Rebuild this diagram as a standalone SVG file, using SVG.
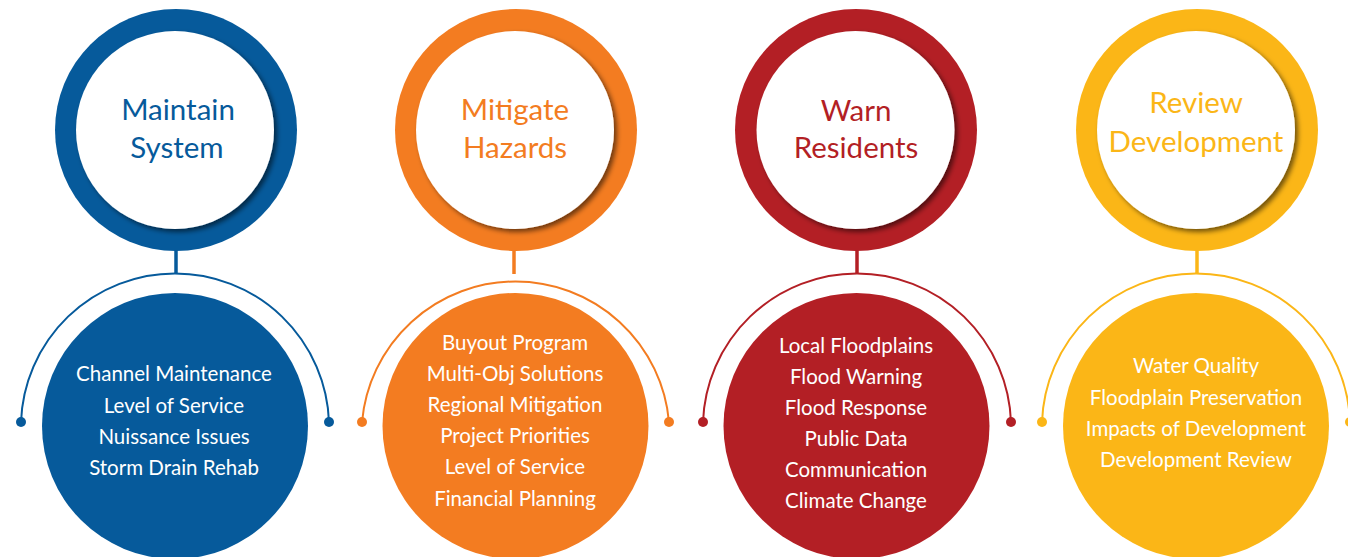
<svg xmlns="http://www.w3.org/2000/svg" width="1348" height="557" viewBox="0 0 1348 557">
<defs>
<filter id="sh" x="-20%" y="-20%" width="140%" height="140%">
<feDropShadow dx="3" dy="3" stdDeviation="2.5" flood-color="#000" flood-opacity="0.55"/>
</filter>
</defs>
<style>
.title{font-family:Lato,"Open Sans",sans-serif;font-size:29.5px;text-anchor:middle}
.item{font-family:Lato,"Open Sans",sans-serif;font-size:20.5px;fill:#fff;text-anchor:middle}
.inner{fill:#fff;filter:url(#sh)}
.conn{fill:none;stroke-width:2}
.stem{stroke-width:3.5}
.blue{fill:#065a9b}.orange{fill:#f37c21}.red{fill:#b31f25}.yellow{fill:#fbb617}
.sblue{stroke:#065a9b}.sorange{stroke:#f37c21}.sred{stroke:#b31f25}.syellow{stroke:#fbb617}
</style>
<rect width="1348" height="557" fill="#fff"/>

<g id="connectors">
<line class="stem sblue" x1="176" y1="248" x2="176" y2="274"/>
<path class="conn sblue" d="M21,422 A154.1,154.1 0 0 1 329,422"/>
<circle class="blue" cx="21" cy="422" r="5"/><circle class="blue" cx="329" cy="422" r="5"/>

<line class="stem sorange" x1="514" y1="248" x2="514" y2="274"/>
<path class="conn sorange" d="M362,422 A154.1,154.1 0 0 1 669,422"/>
<circle class="orange" cx="362" cy="422" r="5"/><circle class="orange" cx="669" cy="422" r="5"/>

<line class="stem sred" x1="857" y1="248" x2="857" y2="274"/>
<path class="conn sred" d="M703,422 A154.1,154.1 0 0 1 1011,422"/>
<circle class="red" cx="703" cy="422" r="5"/><circle class="red" cx="1011" cy="422" r="5"/>

<line class="stem syellow" x1="1197" y1="248" x2="1197" y2="274"/>
<path class="conn syellow" d="M1042,422 A154.1,154.1 0 0 1 1350,422"/>
<circle class="yellow" cx="1042" cy="422" r="5"/><circle class="yellow" cx="1350" cy="422" r="5"/>
</g>

<g id="maintain-system">
<circle class="blue" cx="176" cy="130" r="121"/>
<circle class="inner" cx="175" cy="130" r="99"/>
<text class="title blue" x="178" y="120">Maintain</text>
<text class="title blue" x="177" y="158">System</text>
</g>
<g id="maintain-items">
<circle class="blue" cx="175" cy="426" r="133"/>
<text class="item" x="174" y="381">Channel Maintenance</text>
<text class="item" x="174" y="413">Level of Service</text>
<text class="item" x="174" y="444">Nuissance Issues</text>
<text class="item" x="174" y="475">Storm Drain Rehab</text>
</g>

<g id="mitigate-hazards">
<circle class="orange" cx="516" cy="130" r="121"/>
<circle class="inner" cx="515" cy="130" r="99"/>
<text class="title orange" x="515" y="120">Mitigate</text>
<text class="title orange" x="515" y="158">Hazards</text>
</g>
<g id="mitigate-items">
<circle class="orange" cx="515.5" cy="426" r="133"/>
<text class="item" x="515" y="350">Buyout Program</text>
<text class="item" x="515" y="381">Multi-Obj Solutions</text>
<text class="item" x="515" y="412">Regional Mitigation</text>
<text class="item" x="515" y="443">Project Priorities</text>
<text class="item" x="515" y="474">Level of Service</text>
<text class="item" x="515" y="506">Financial Planning</text>
</g>

<g id="warn-residents">
<circle class="red" cx="856" cy="130" r="121"/>
<circle class="inner" cx="855.5" cy="130" r="99"/>
<text class="title red" x="856" y="121">Warn</text>
<text class="title red" x="856" y="158">Residents</text>
</g>
<g id="warn-items">
<circle class="red" cx="856.5" cy="426" r="133"/>
<text class="item" x="856" y="353">Local Floodplains</text>
<text class="item" x="856" y="384">Flood Warning</text>
<text class="item" x="856" y="415">Flood Response</text>
<text class="item" x="856" y="446">Public Data</text>
<text class="item" x="856" y="477">Communication</text>
<text class="item" x="856" y="508">Climate Change</text>
</g>

<g id="review-development">
<circle class="yellow" cx="1197" cy="130" r="121"/>
<circle class="inner" cx="1196" cy="130" r="99"/>
<text class="title yellow" x="1196" y="113">Review</text>
<text class="title yellow" x="1196" y="152">Development</text>
</g>
<g id="review-items">
<circle class="yellow" cx="1196" cy="426" r="133"/>
<text class="item" x="1196" y="373">Water Quality</text>
<text class="item" x="1196" y="405">Floodplain Preservation</text>
<text class="item" x="1196" y="436">Impacts of Development</text>
<text class="item" x="1196" y="467">Development Review</text>
</g>
</svg>
